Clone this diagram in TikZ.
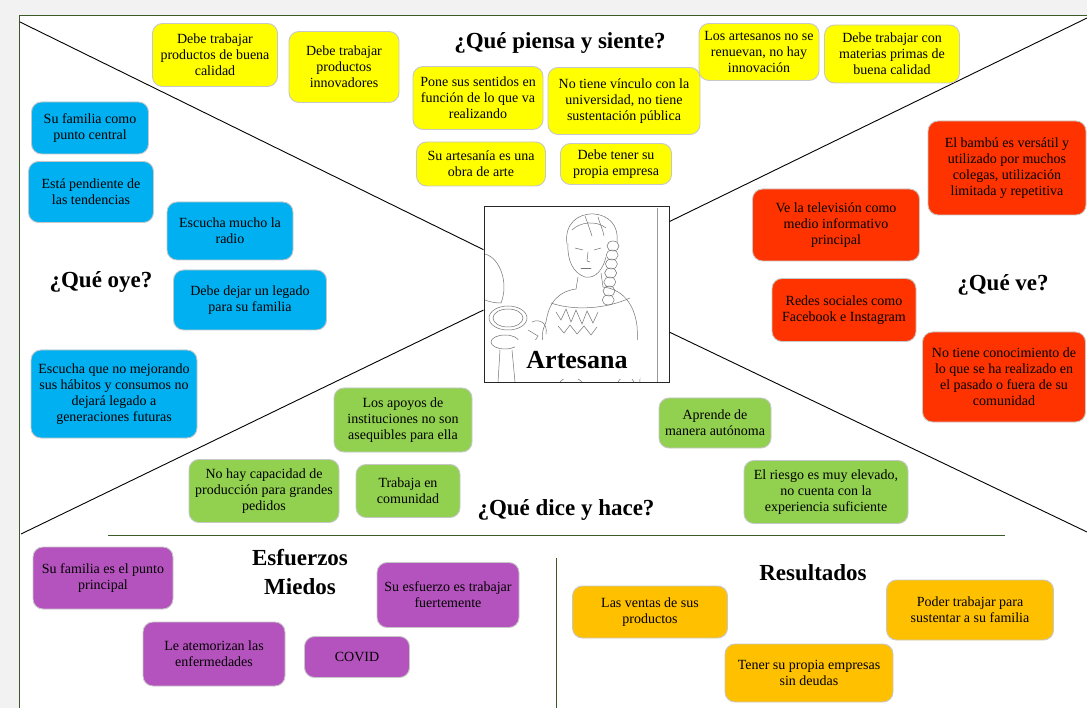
\documentclass[tikz,border=0pt]{standalone}
\usepackage{fontspec}
\setmainfont{Liberation Serif}
\usetikzlibrary{calc}
\definecolor{fondo}{HTML}{F2F2F2}
\definecolor{marcoverde}{HTML}{3B5A26}
\definecolor{amarillo}{HTML}{FFFF00}
\definecolor{celeste}{HTML}{00B0F0}
\definecolor{rojo}{HTML}{FF3300}
\definecolor{verde}{HTML}{92D050}
\definecolor{morado}{HTML}{B553BE}
\definecolor{naranja}{HTML}{FFC000}
\tikzset{
    card/.style={
    rectangle,rounded corners=10pt,draw=black!22,line width=0.9pt,align=center,inner sep=1pt,
    font=\fontsize{14}{16}\selectfont
    },
    wh/.style 2 args={
    minimum width=#1pt,minimum height=#2pt
    },
    piensa/.style={card,fill=amarillo},
    oye/.style={card,fill=celeste},
    ve/.style={card,fill=rojo},
    dice/.style={card,fill=verde},
    miedo/.style={card,fill=morado},
    logro/.style={card,fill=naranja},
    titulo/.style={
    font=\fontsize{23}{28}\selectfont\bfseries,align=center
    },
    diag/.style={draw=black,line width=0.9pt},
    divisor/.style={draw=marcoverde,line width=1pt},
    boceto/.style={draw=black!55,line width=0.5pt,line cap=round},
}

\begin{document}
\begin{tikzpicture}[x=1pt,y=-1pt]
   \useasboundingbox (0,0) rectangle (1087,708);
   \fill[fondo] (0,0) rectangle (1087,708);
   \fill[white] (19,16) rectangle (1087,708);
   \draw[divisor] (19,708) -- (19,16) -- (1087,16);

   %center picture
   \node[draw=black!85,line width=1pt,fill=white,wh={185}{176},inner sep=0pt] (foto) at (576.5,295) {};
   \coordinate (esqA) at (20,22);
   \coordinate (esqB) at (1087,18);
   \coordinate (esqC) at (21,534);
   \coordinate (esqD) at (1087,532);
   \draw[diag] (esqA) -- ($(foto.north west)!0.244!(foto.south west)$);
   \draw[diag] (esqC) -- ($(foto.north west)!0.585!(foto.south west)$);
   \draw[diag] (esqB) -- ($(foto.north east)!0.085!(foto.south east)$);
   \draw[diag] (esqD) -- ($(foto.north east)!0.71!(foto.south east)$);

   %dividers
   \coordinate (hA) at (108,535);
   \coordinate (hB) at (1005,535);
   \coordinate (vA) at (556,558);
   \coordinate (vB) at (556,708);
   \draw[divisor] (hA) -- (hB);
   \draw[divisor] (vA) -- (vB);

   %sketch of the artisan
   \begin{scope}
     \clip (485,208) rectangle (668,382);
     \draw[black!40,line width=0.6pt] (657,208) -- (657,382);
     % head and hair
     \draw[boceto] (567,244) .. controls (564,224) and (578,213) .. (594,214) .. controls (609,215) and (619,226) .. (617,242);
     \draw[boceto] (572,230) .. controls (580,222) and (596,220) .. (606,228);
     \draw[boceto] (585,216) .. controls (588,224) and (590,230) .. (592,236);
     \draw[boceto] (598,217) .. controls (600,224) and (603,230) .. (604,236);
     \draw[boceto] (568,244) .. controls (567,260) and (573,273) .. (585,277) .. controls (596,279) and (603,269) .. (606,257);
     \draw[boceto] (575,248) -- (583,250);
     \draw[boceto] (594,250) -- (601,248);
     \draw[boceto] (588,252) -- (587,261) -- (590,262);
     \draw[boceto] (581,268) -- (591,268);
     % braid
     \foreach \i in {0,...,6}
       \draw[boceto] (613-0.8*\i,246+9*\i) ellipse (6 and 5);
     % neck, shoulders and blouse
     \draw[boceto] (578,277) -- (576,289);
     \draw[boceto] (601,273) -- (603,287);
     \draw[boceto] (576,289) .. controls (560,291) and (549,301) .. (546,322);
     \draw[boceto] (603,287) .. controls (621,289) and (634,302) .. (637,326) -- (640,382);
     \draw[boceto] (551,303) .. controls (574,311) and (606,309) .. (630,298);
     \draw[boceto] (556,312) -- (561,320) -- (566,309) -- (571,322) -- (576,310) -- (582,324) -- (587,311) -- (593,323) -- (598,312);
     \draw[boceto] (558,326) -- (564,333) -- (570,325) -- (577,334) -- (584,326) -- (591,335) -- (597,327);
     % arm and hand
     \draw[boceto] (546,322) .. controls (541,333) and (540,343) .. (549,348);
     \draw[boceto] (532,322) .. controls (540,318) and (548,324) .. (546,334);
     \draw[boceto] (528,330) -- (538,336) -- (533,344);
     % hoops
     \draw[boceto] (508,318) ellipse (19 and 12);
     \draw[boceto] (508,318) ellipse (15 and 9);
     \draw[boceto] (505,342) ellipse (14 and 7);
     \draw[boceto] (500,350) -- (498,382);
     \draw[boceto] (512,350) -- (515,382);
     % figure on the left
     \draw[boceto] (485,254) .. controls (500,258) and (509,283) .. (501,303);
     \draw[boceto] (485,300) .. controls (490,302) and (495,303) .. (501,303);
     % bottom
     \draw[boceto] (560,382) .. controls (565,376) and (575,375) .. (582,382);
     \draw[boceto] (618,382) .. controls (622,375) and (630,374) .. (634,382);
   \end{scope}
   \node[fill=white,inner sep=0pt,minimum width=125pt,minimum height=39pt,font=\fontsize{26}{30}\selectfont\bfseries] (nombre) at (577,360) {Artesana};

   %que piensa y siente
   \node[titulo] (tPiensa) at (560,43) {¿Qué piensa y siente?};
   \node[piensa,wh={125}{63}] (y1) at (215,55) {Debe trabajar\\productos de buena\\calidad};
   \node[piensa,wh={110}{71}] (y2) at (344,67) {Debe trabajar\\productos\\innovadores};
   \node[piensa,wh={130}{63}] (y3) at (478,98) {Pone sus sentidos en\\función de lo que va\\realizando};
   \node[piensa,wh={152}{67}] (y4) at (624,101) {No tiene vínculo con la\\universidad, no tiene\\sustentación pública};
   \node[piensa,wh={129}{44}] (y5) at (481,164) {Su artesanía es una\\obra de arte};
   \node[piensa,wh={111}{41}] (y6) at (616,164) {Debe tener su\\propia empresa};
   \node[piensa,wh={120}{57}] (y7) at (759,52) {Los artesanos no se\\renuevan, no hay\\innovación};
   \node[piensa,wh={135}{58}] (y8) at (892,54) {Debe trabajar con\\materias primas de\\buena calidad};

   %que oye
   \node[titulo] (tOye) at (101,282) {¿Qué oye?};
   \node[oye,wh={117}{52}] (b1) at (90,128) {Su familia  como\\punto central};
   \node[oye,wh={125}{61}] (b2) at (91,192) {Está pendiente de\\las tendencias};
   \node[oye,wh={126}{58}] (b3) at (230,231) {Escucha mucho la\\radio};
   \node[oye,wh={153}{60}] (b4) at (250,300) {Debe dejar un legado\\para su familia};
   \node[oye,wh={166}{88}] (b5) at (114,394) {Escucha que no mejorando\\sus hábitos y consumos no\\dejará legado a\\generaciones futuras};

   %que ve
   \node[titulo] (tVe) at (1003,285) {¿Qué ve?};
   \node[ve,wh={158}{94}] (r1) at (1007,168) {El bambú es versátil y\\utilizado  por muchos\\colegas, utilización\\limitada  y repetitiva};
   \node[ve,wh={167}{72}] (r2) at (836,225) {Ve la televisión  como\\medio informativo\\principal};
   \node[ve,wh={144}{63}] (r3) at (844,310) {Redes sociales como\\Facebook e Instagram};
   \node[ve,wh={163}{90}] (r4) at (1004,377) {No tiene conocimiento de\\lo que se ha realizado en\\el pasado o fuera de su\\comunidad};

   %que dice y hace
   \node[titulo] (tDice) at (566,510) {¿Qué dice y hace?};
   \node[dice,wh={138}{64}] (g1) at (403,420) {Los apoyos de\\instituciones  no son\\asequibles para ella};
   \node[dice,wh={150}{63}] (g2) at (264,491) {No hay capacidad de\\producción para grandes\\pedidos};
   \node[dice,wh={104}{53}] (g3) at (408,491) {Trabaja en\\comunidad};
   \node[dice,wh={112}{50}] (g4) at (715,423) {Aprende de\\manera autónoma};
   \node[dice,wh={164}{63}] (g5) at (826,492) {El riesgo es muy elevado,\\no cuenta con la\\experiencia suficiente};

   %esfuerzos y miedos
   \node[titulo,font=\fontsize{23}{29}\selectfont\bfseries] (tMiedo) at (300,572) {Esfuerzos\\Miedos};
   \node[miedo,wh={140}{62}] (p1) at (103,578) {Su familia  es el punto\\principal};
   \node[miedo,wh={142}{64}] (p2) at (214,654) {Le atemorizan las\\enfermedades};
   \node[miedo,wh={105}{41}] (p3) at (357,657) {COVID};
   \node[miedo,wh={142}{65}] (p4) at (448,595) {Su esfuerzo es trabajar\\fuertemente};

   %resultados
   \node[titulo] (tLogro) at (813,573) {Resultados};
   \node[logro,wh={155}{52}] (o1) at (650,612) {Las ventas de sus\\productos};
   \node[logro,wh={168}{58}] (o2) at (809,673) {Tener su propia empresas\\sin deudas};
   \node[logro,wh={167}{60}] (o3) at (970,610) {Poder trabajar para\\sustentar a su familia};
\end{tikzpicture}
\end{document}
